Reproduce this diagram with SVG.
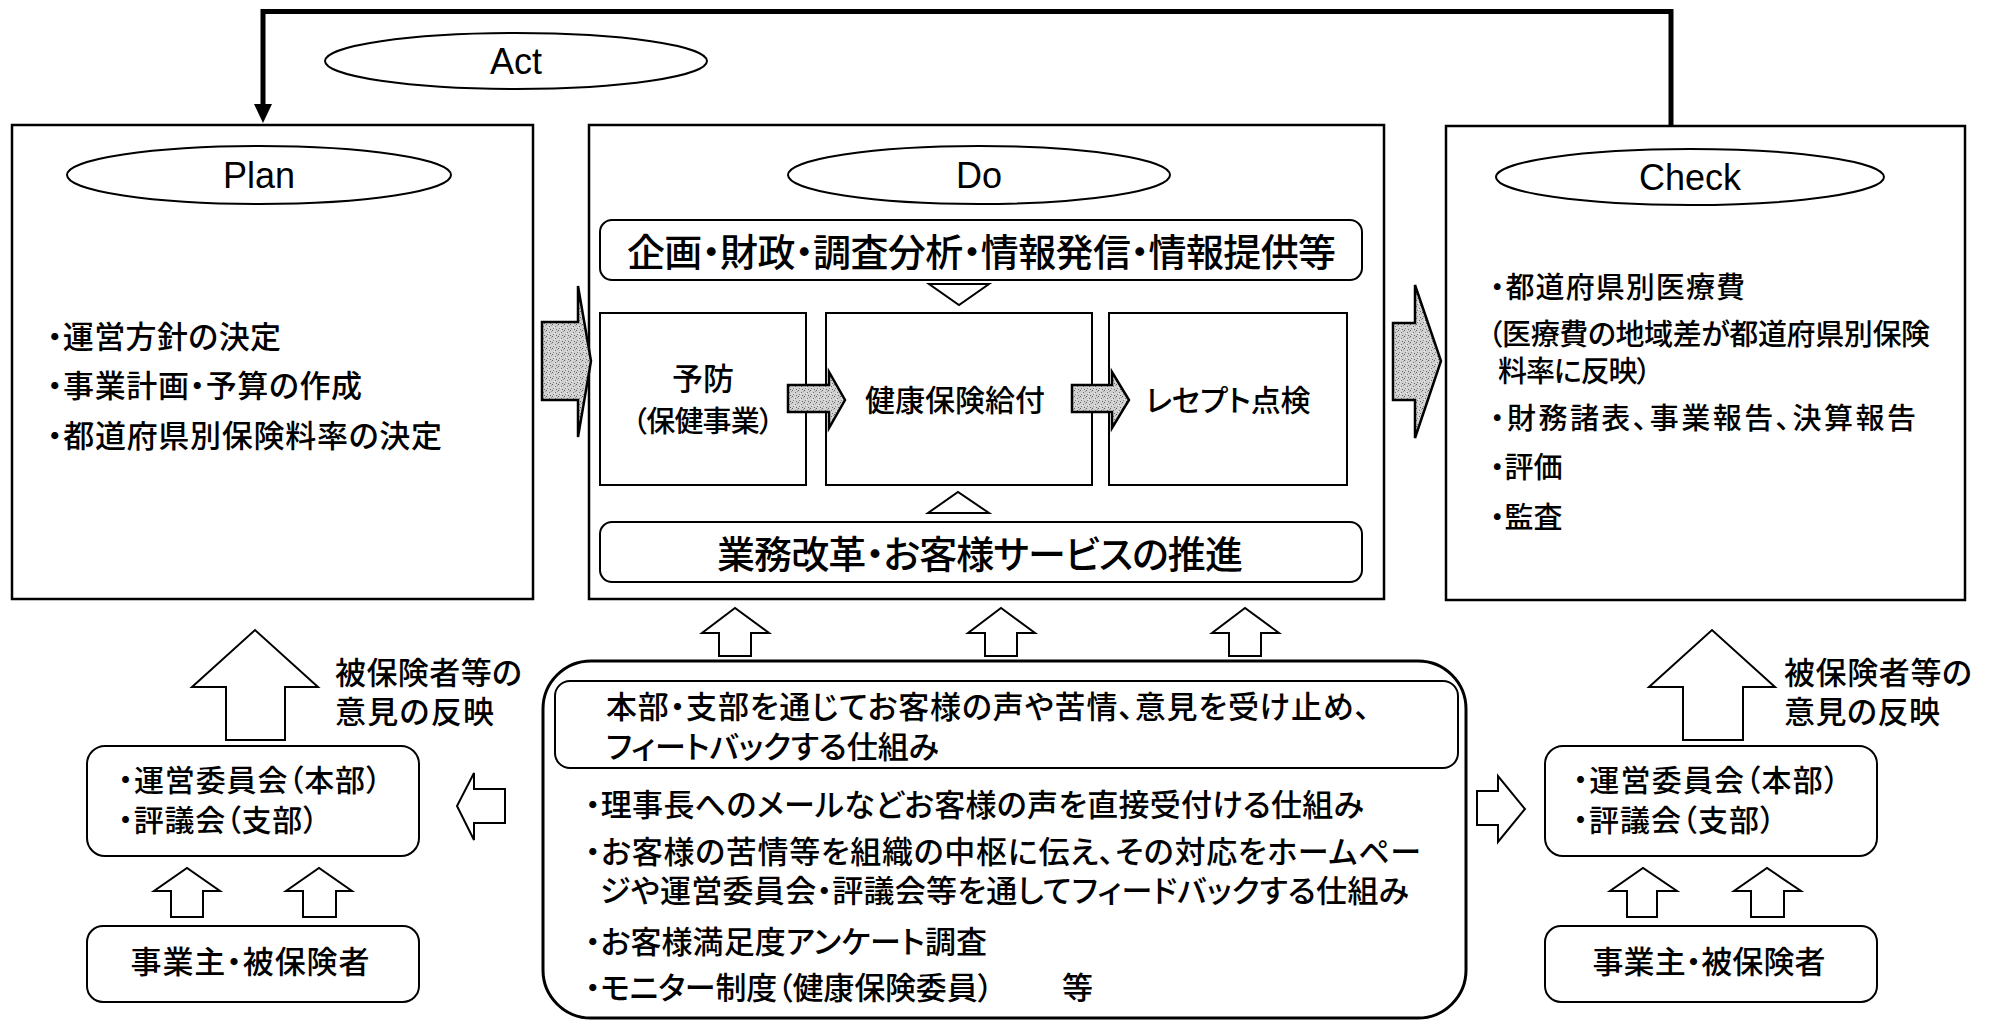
<svg xmlns="http://www.w3.org/2000/svg" width="1996" height="1023" viewBox="0 0 1996 1023">
<defs>
<pattern id="stip" width="6" height="6" patternUnits="userSpaceOnUse">
<rect width="6" height="6" fill="#d2d2d2"/>
<rect x="0" y="0" width="1" height="1" fill="#5e5e5e"/>
<rect x="3" y="2" width="1" height="1" fill="#707070"/>
<rect x="1" y="4" width="1" height="1" fill="#808080"/>
<rect x="4" y="5" width="1" height="1" fill="#666"/>
<rect x="5" y="1" width="1" height="1" fill="#999"/>
<rect x="2" y="3" width="1" height="1" fill="#eee"/>
</pattern>
</defs>
<style>
.jp{font-family:"Liberation Sans","Noto Sans CJK JP","Noto Sans CJK SC",sans-serif;font-feature-settings:"palt";font-weight:500;fill:#000;dominant-baseline:central}
.en{font-family:"Liberation Sans",Arial,sans-serif;font-size:36px;fill:#000;text-anchor:middle;dominant-baseline:central}
.box{fill:#fff;stroke:#000;stroke-width:2.5}
.ibox{fill:#fff;stroke:#000;stroke-width:2}
.ell{fill:#fff;stroke:#000;stroke-width:2}
.hollow{fill:#fff;stroke:#000;stroke-width:2;stroke-linejoin:miter}
.gray{fill:url(#stip);stroke:#000;stroke-width:2.5;stroke-linejoin:miter}
.mid{text-anchor:middle}
</style>
<rect width="1996" height="1023" fill="#fff"/>

<g id="act">
<ellipse class="ell" cx="516" cy="61" rx="191" ry="28"/>
<text class="en" x="516" y="61">Act</text>
</g>

<g id="plan">
<rect class="box" x="12" y="125" width="521" height="474"/>
<ellipse class="ell" cx="259" cy="175" rx="192" ry="29"/>
<text class="en" x="259" y="175">Plan</text>
<text class="jp" x="47" y="337" font-size="31" textLength="234">・運営方針の決定</text>
<text class="jp" x="47" y="386" font-size="31" textLength="315">・事業計画・予算の作成</text>
<text class="jp" x="47" y="436" font-size="31" textLength="395">・都道府県別保険料率の決定</text>
</g>

<g id="do">
<rect class="box" x="589" y="125" width="795" height="474"/>
<ellipse class="ell" cx="979" cy="175" rx="191" ry="29"/>
<text class="en" x="979" y="175">Do</text>
<g id="do-top">
<rect class="ibox" x="600" y="220" width="762" height="60" rx="12"/>
<text class="jp" x="627" y="253" font-size="38" textLength="709">企画・財政・調査分析・情報発信・情報提供等</text>
</g>
<g id="do-yobo">
<rect class="ibox" x="600" y="313" width="206" height="172"/>
<text class="jp mid" font-size="31"><tspan x="703" y="379">予防</tspan><tspan x="703" y="422" font-size="29" textLength="141">（保健事業）</tspan></text>
</g>
<g id="do-kyufu">
<rect class="ibox" x="826" y="313" width="266" height="172"/>
<text class="jp mid" x="955" y="400" font-size="30" textLength="180">健康保険給付</text>
</g>
<g id="do-receipt">
<rect class="ibox" x="1109" y="313" width="238" height="172"/>
<text class="jp mid" x="1228" y="400" font-size="30" textLength="165">レセプト点検</text>
</g>
<g id="do-bottom">
<rect class="ibox" x="600" y="522" width="762" height="60" rx="12"/>
<text class="jp" x="717" y="555" font-size="38" textLength="526">業務改革・お客様サービスの推進</text>
</g>
</g>

<g id="check">
<rect class="box" x="1446" y="126" width="519" height="474"/>
<ellipse class="ell" cx="1690" cy="177" rx="194" ry="28"/>
<text class="en" x="1690" y="177">Check</text>
<text class="jp" x="1490" y="288" font-size="29" textLength="255">・都道府県別医療費</text>
<text class="jp" font-size="29"><tspan x="1488" y="335" textLength="442">（医療費の地域差が都道府県別保険</tspan><tspan x="1498" y="372" textLength="153">料率に反映）</tspan></text>
<text class="jp" x="1490" y="419" font-size="29" textLength="426">・財務諸表、事業報告、決算報告</text>
<text class="jp" x="1490" y="468" font-size="29">・評価</text>
<text class="jp" x="1490" y="518" font-size="29">・監査</text>
</g>

<g id="feedback">
<rect x="543" y="661" width="923" height="357" rx="48" fill="#fff" stroke="#000" stroke-width="3"/>
<rect class="ibox" x="555" y="681" width="903" height="87" rx="15"/>
<text class="jp" font-size="31"><tspan x="606" y="707" textLength="764">本部・支部を通じてお客様の声や苦情、意見を受け止め、</tspan><tspan x="606" y="747" textLength="333">フィートバックする仕組み</tspan></text>
<text class="jp" x="585" y="805" font-size="31" textLength="779">・理事長へのメールなどお客様の声を直接受付ける仕組み</text>
<text class="jp" font-size="31"><tspan x="585" y="852" textLength="836">・お客様の苦情等を組織の中枢に伝え、その対応をホームペー</tspan><tspan x="600" y="891" textLength="809">ジや運営委員会・評議会等を通してフィードバックする仕組み</tspan></text>
<text class="jp" x="585" y="942" font-size="31" textLength="402">・お客様満足度アンケート調査</text>
<text class="jp" x="585" y="988" font-size="31" textLength="408">・モニター制度（健康保険委員）</text>
<text class="jp" x="1062" y="988" font-size="31">等</text>
</g>

<g id="left-council">
<rect class="ibox" x="87" y="746" width="332" height="110" rx="18"/>
<text class="jp" font-size="30"><tspan x="118" y="780" textLength="263">・運営委員会（本部）</tspan><tspan x="118" y="820" textLength="200">・評議会（支部）</tspan></text>
</g>
<g id="left-insured">
<rect class="ibox" x="87" y="926" width="332" height="76" rx="16"/>
<text class="jp mid" x="250" y="962" font-size="31" textLength="239">事業主・被保険者</text>
</g>
<g id="right-council">
<rect class="ibox" x="1545" y="746" width="332" height="110" rx="18"/>
<text class="jp" font-size="30"><tspan x="1573" y="780" textLength="266">・運営委員会（本部）</tspan><tspan x="1573" y="820" textLength="202">・評議会（支部）</tspan></text>
</g>
<g id="right-insured">
<rect class="ibox" x="1545" y="926" width="332" height="76" rx="16"/>
<text class="jp mid" x="1709" y="962" font-size="31" textLength="233">事業主・被保険者</text>
</g>

<g id="connectors">
<path d="M263,106 V11.5 H1671 V126" fill="none" stroke="#000" stroke-width="5"/>
<polygon points="254,104 272,104 263,123" fill="#000"/>
<path class="gray" d="M542,322 H578 V286 L591,361 L578,437 V400 H542 Z"/>
<path class="gray" d="M1393,323 H1415 V285 L1441,361 L1415,438 V400 H1393 Z"/>
<path class="gray" d="M788,385 H829 V372 L845,400 L829,428 V412 H788 Z"/>
<path class="gray" d="M1072,385 H1112 V372 L1129,400 L1112,428 V412 H1072 Z"/>
<polygon class="hollow" points="929,284 989,284 959,305"/>
<polygon class="hollow" points="928,513 989,513 958,492"/>
<path class="hollow" d="M719,656 V633 H702 L735,608 L769,633 H751 V656 Z"/>
<path class="hollow" d="M985,656 V633 H968 L1001,608 L1035,633 H1017 V656 Z"/>
<path class="hollow" d="M1229,656 V633 H1212 L1245,608 L1279,633 H1261 V656 Z"/>
<path class="hollow" d="M226,740 V687 H192 L255,630 L318,687 H285 V740 Z"/>
<path class="hollow" d="M1683,740 V687 H1649 L1712,630 L1775,687 H1743 V740 Z"/>
<path class="hollow" d="M171,917 V891 H154 L187,868 L220,891 H203 V917 Z"/>
<path class="hollow" d="M303,917 V891 H286 L319,868 L352,891 H336 V917 Z"/>
<path class="hollow" d="M1627,917 V891 H1610 L1643,868 L1677,891 H1657 V917 Z"/>
<path class="hollow" d="M1751,917 V891 H1734 L1767,868 L1801,891 H1784 V917 Z"/>
<path class="hollow" d="M505,789 H474 V773 L457,806 L474,840 V823 H505 Z"/>
<path class="hollow" d="M1477,791 H1498 V776 L1525,809 L1498,842 V825 H1477 Z"/>
</g>

<g id="labels">
<text class="jp" font-size="31"><tspan x="335" y="673" textLength="187">被保険者等の</tspan><tspan x="335" y="712" textLength="159">意見の反映</tspan></text>
<text class="jp" font-size="31"><tspan x="1784" y="673" textLength="188">被保険者等の</tspan><tspan x="1784" y="712" textLength="156">意見の反映</tspan></text>
</g>
</svg>
